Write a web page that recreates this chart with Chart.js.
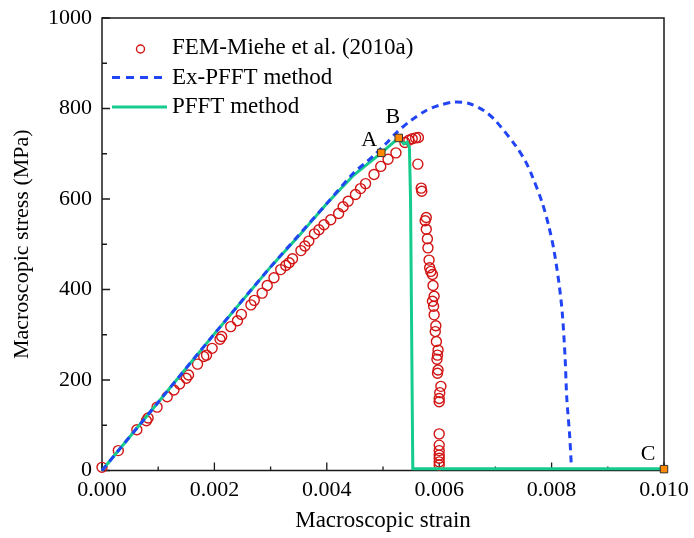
<!DOCTYPE html>
<html>
<head>
<meta charset="utf-8">
<script src="https://cdn.jsdelivr.net/npm/chart.js@4.4.1/dist/chart.umd.min.js"></script>
<style>
  html, body { margin: 0; padding: 0; background: #fff; }
  #wrap { width: 694px; height: 538px; }
</style>
</head>
<body>
<div id="wrap"><canvas id="c" width="694" height="538"></canvas></div>
<script>
// ---- data (strain in absolute units, stress in MPa) ----
const femStrain = [0.00000,0.00029,0.00062,0.00079,0.00082,0.00098,0.00116,0.00128,0.00138,0.00150,0.00154,0.00170,0.00181,0.00186,0.00196,0.00210,0.00213,0.00229,0.00241,0.00248,0.00265,0.00271,0.00285,0.00294,0.00306,0.00318,0.00327,0.00333,0.00339,0.00354,0.00361,0.00368,0.00378,0.00386,0.00395,0.00407,0.00421,0.00429,0.00438,0.00451,0.00460,0.00469,0.00484,0.00496,0.00509,0.00523,0.00539,0.00546,0.00552,0.00558,0.00563,0.00562,0.00568,0.00569,0.00577,0.00575,0.00577,0.00579,0.00580,0.00582,0.00583,0.00585,0.00588,0.00589,0.00591,0.00588,0.00590,0.00591,0.00594,0.00593,0.00595,0.00598,0.00597,0.00596,0.00598,0.00597,0.00603,0.00601,0.00600,0.00600,0.00600,0.00600,0.00600,0.00600,0.00600,0.00600,0.00600];
const femStress = [7,44,90,110,116,140,163,178,191,204,211,235,252,255,270,290,296,318,331,345,366,376,392,409,426,444,453,459,468,486,496,507,523,532,543,554,568,583,595,610,623,634,654,672,688,702,725,730,733,735,736,677,624,617,559,552,533,512,492,465,448,440,433,409,385,374,363,344,320,307,285,266,255,246,222,215,186,172,159,152,81,56,44,34,27,19,12];

const exStrain = [0.0000,0.0010,0.0020,0.0030,0.0035,0.0040,0.00448,0.00469,0.00487,0.00505,0.00525,0.00549,0.00576,0.00600,0.00626,0.00653,0.00680,0.00701,0.00737,0.00754,0.00765,0.00783,0.00795,0.00804,0.00813,0.00819,0.00824,0.00827,0.00832,0.00835];
const exStress = [0,151,302,450,520,590,658,680,700,722,748,773,795,807,814,811,795,772,716,682,652,593,540,488,415,348,250,160,80,14];

const pfftStrain = [0.0000,0.0010,0.0020,0.0030,0.0035,0.0040,0.00448,0.00497,0.00528,0.00537,0.00543,0.00547,0.00549,0.00551,0.00553,0.0100];
const pfftStress = [0,151,302,450,518,590,653,702,735,722,726,714,600,300,4,4];

const markLabels = ['A','B','C'];
const markStrain = [0.00497,0.00528,0.0100];
const markStress = [702,735,3];

const xTickStep = 0.002;
const yTickStep = 200;

const seriesNames = ['FEM-Miehe et al. (2010a)','Ex-PFFT method','PFFT method'];
const xTitle = 'Macroscopic strain';
const yTitle = 'Macroscopic stress (MPa)';

// ---- styling ----
const FONT = "'Liberation Serif', 'Times New Roman', serif";
const RED = '#d21414';
const BLUE = '#2144f5';
const GREEN = '#15cc8c';
const ORANGE = '#ff8a00';
const AXIS = '#1a1a1a';

const zip = (xs, ys) => xs.map((v, i) => ({x: v, y: ys[i]}));

const framePlugin = {
  id: 'frameTicks',
  beforeDatasetsDraw(chart) {
    const {ctx, chartArea: a, scales: {x, y}} = chart;
    ctx.save();
    ctx.strokeStyle = AXIS;
    ctx.lineWidth = 1.5;
    ctx.strokeRect(a.left, a.top, a.right - a.left, a.bottom - a.top);
    ctx.lineWidth = 1.3;
    const xt = x.ticks.map(t => t.value);
    const yt = y.ticks.map(t => t.value);
    ctx.beginPath();
    xt.forEach((v, i) => {
      const p = x.getPixelForValue(v);
      ctx.moveTo(p, a.bottom); ctx.lineTo(p, a.bottom - 8);
      if (i < xt.length - 1) {
        const m = x.getPixelForValue((v + xt[i + 1]) / 2);
        ctx.moveTo(m, a.bottom); ctx.lineTo(m, a.bottom - 4);
      }
    });
    yt.forEach((v, i) => {
      const p = y.getPixelForValue(v);
      ctx.moveTo(a.left, p); ctx.lineTo(a.left + 8, p);
      if (i < yt.length - 1) {
        const m = y.getPixelForValue((v + yt[i + 1]) / 2);
        ctx.moveTo(a.left, m); ctx.lineTo(a.left + 5, m);
      }
    });
    ctx.stroke();
    ctx.restore();
  },
  afterDraw(chart) {
    const {ctx, chartArea: a, scales: {x, y}} = chart;
    ctx.save();
    ctx.font = '22px ' + FONT;
    ctx.fillStyle = '#000';
    ctx.textAlign = 'center';
    ctx.textBaseline = 'middle';
    const offs = [[-12, -13], [-6, -21], [-16, -15]];
    markLabels.forEach((t, i) => {
      const px = x.getPixelForValue(markStrain[i]);
      const py = y.getPixelForValue(markStress[i]);
      ctx.fillText(t, px + offs[i][0], py + offs[i][1]);
    });
    const lx = a.left + 10, ly = a.top + 30, gap = 29.5, lw = 55;
    ctx.textAlign = 'left';
    ctx.font = '23px ' + FONT;
    ctx.strokeStyle = RED; ctx.lineWidth = 1.4;
    ctx.beginPath(); ctx.arc(lx + lw / 2 + 1, ly + 1, 4, 0, Math.PI * 2); ctx.stroke();
    ctx.fillText(seriesNames[0], lx + lw + 5, ly);
    ctx.strokeStyle = BLUE; ctx.lineWidth = 3; ctx.setLineDash([8, 6]);
    ctx.beginPath(); ctx.moveTo(lx, ly + gap); ctx.lineTo(lx + lw, ly + gap); ctx.stroke();
    ctx.setLineDash([]);
    ctx.fillText(seriesNames[1], lx + lw + 5, ly + gap);
    ctx.strokeStyle = GREEN; ctx.lineWidth = 3;
    ctx.beginPath(); ctx.moveTo(lx, ly + 2 * gap); ctx.lineTo(lx + lw, ly + 2 * gap); ctx.stroke();
    ctx.fillText(seriesNames[2], lx + lw + 5, ly + 2 * gap);
    ctx.restore();
  }
};

const noPad = s => { s.paddingTop = 0; s.paddingBottom = 0; s.paddingLeft = 0; s.paddingRight = 0; };

new Chart(document.getElementById('c'), {
  type: 'scatter',
  data: {
    datasets: [
      {
        label: 'marks', data: zip(markStrain, markStress), order: 0,
        pointStyle: 'rect', pointRadius: 5.3, backgroundColor: ORANGE,
        borderColor: '#333', borderWidth: 1, clip: false
      },
      {
        label: seriesNames[1], data: zip(exStrain, exStress), order: 1,
        showLine: true, pointRadius: 0, borderColor: BLUE, borderWidth: 3,
        borderDash: [7, 5], tension: 0.3, clip: false
      },
      {
        label: seriesNames[2], data: zip(pfftStrain, pfftStress), order: 2,
        showLine: true, pointRadius: 0, borderColor: GREEN, borderWidth: 3,
        tension: 0, clip: false
      },
      {
        label: seriesNames[0], data: zip(femStrain, femStress), order: 3,
        pointStyle: 'circle', pointRadius: 5, borderColor: RED,
        backgroundColor: 'rgba(0,0,0,0)', borderWidth: 1.4, clip: false
      }
    ]
  },
  options: {
    responsive: false,
    devicePixelRatio: 1,
    animation: false,
    events: [],
    layout: { autoPadding: false, padding: { left: 0, right: 30, top: 18, bottom: 0 } },
    plugins: { legend: { display: false }, tooltip: { enabled: false } },
    scales: {
      x: {
        type: 'linear', min: 0, max: 0.010,
        afterFit(s) { s.height = 67.5; noPad(s); },
        border: { display: false },
        grid: { display: false, drawTicks: false },
        ticks: {
          stepSize: xTickStep, padding: 6.5, color: '#000', maxRotation: 0,
          font: { family: FONT, size: 22 },
          callback: v => Number(v).toFixed(3)
        },
        title: { display: true, text: xTitle, color: '#000',
          font: { family: FONT, size: 23 }, padding: { top: 0, bottom: 3 } }
      },
      y: {
        type: 'linear', min: 0, max: 1000,
        afterFit(s) { s.width = 102; noPad(s); },
        border: { display: false },
        grid: { display: false, drawTicks: false },
        ticks: {
          stepSize: yTickStep, padding: 10, color: '#000',
          font: { family: FONT, size: 22 },
          callback: v => String(v)
        },
        title: { display: true, text: yTitle, color: '#000',
          font: { family: FONT, size: 22 }, padding: { top: 9, bottom: 0 } }
      }
    }
  },
  plugins: [framePlugin]
});
</script>
</body>
</html>
